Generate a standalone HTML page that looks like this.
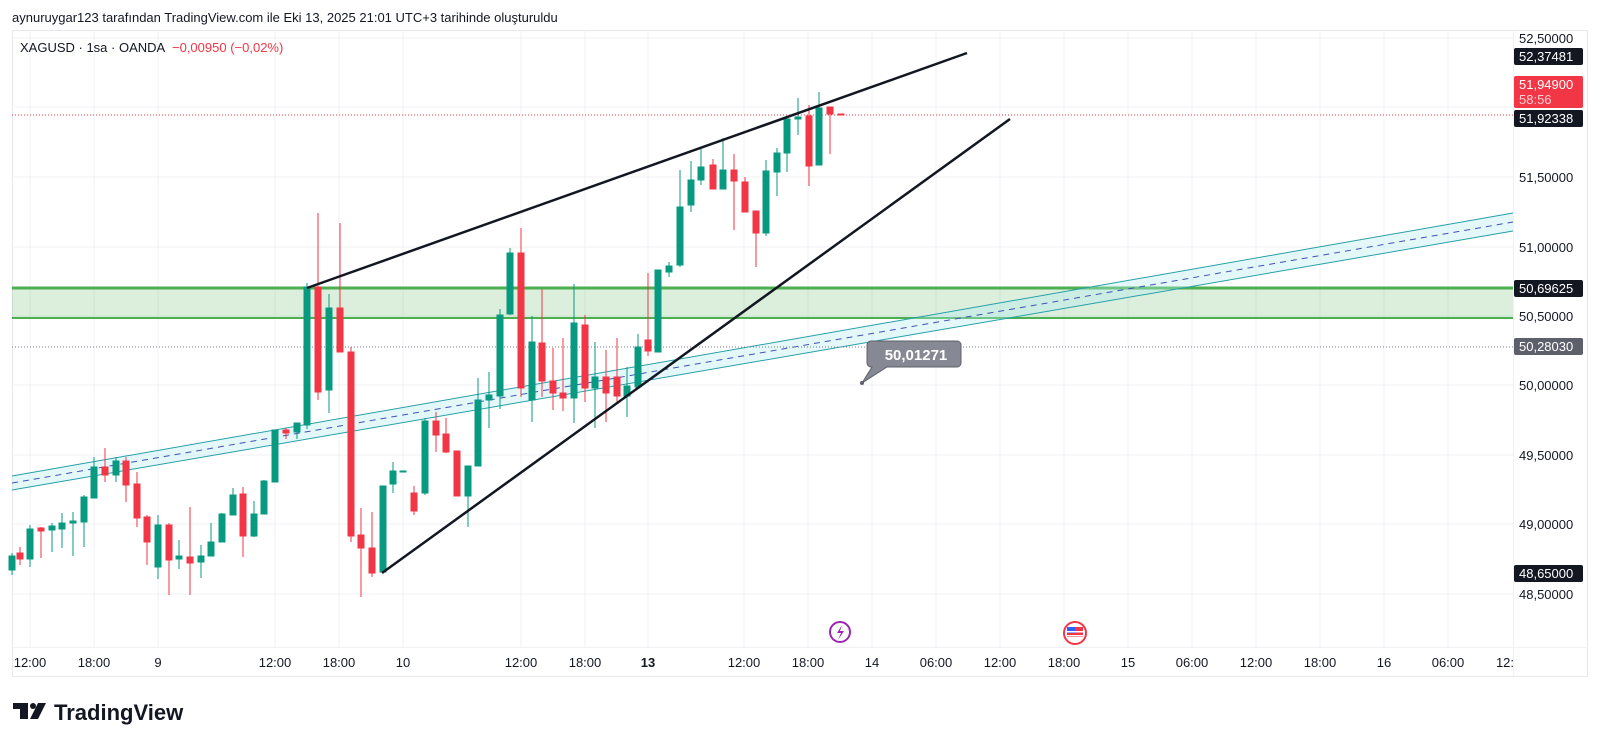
<!DOCTYPE html>
<html><head><meta charset="utf-8"><style>
html,body{margin:0;padding:0;background:#fff;width:1600px;height:744px;overflow:hidden}
svg{display:block;font-family:"Liberation Sans",sans-serif}
.g{fill:#089981;stroke:#089981}.r{fill:#f23645;stroke:#f23645}
.gw{stroke:#089981;stroke-width:1}.rw{stroke:#f23645;stroke-width:1}
.t{font-size:13px;fill:#131722}
</style></head><body>
<svg width="1600" height="744" viewBox="0 0 1600 744" xmlns="http://www.w3.org/2000/svg">
<text x="12" y="22" font-size="13" fill="#131722">aynuruygar123 tarafından TradingView.com ile Eki 13, 2025 21:01 UTC+3 tarihinde oluşturuldu</text>
<rect x="12.5" y="30.5" width="1575" height="646" fill="#fff" stroke="#e6e8ee"/>
<line x1="12" y1="647.5" x2="1588" y2="647.5" stroke="#f0f1f4"/>
<line x1="1513.5" y1="30" x2="1513.5" y2="677" stroke="#f0f1f4"/>
<g stroke="#f0f1f4" stroke-width="1">
<line x1="12" y1="38" x2="1513" y2="38"/><line x1="12" y1="107" x2="1513" y2="107"/><line x1="12" y1="177" x2="1513" y2="177"/><line x1="12" y1="247" x2="1513" y2="247"/><line x1="12" y1="316" x2="1513" y2="316"/><line x1="12" y1="385" x2="1513" y2="385"/><line x1="12" y1="455" x2="1513" y2="455"/><line x1="12" y1="524" x2="1513" y2="524"/><line x1="12" y1="594" x2="1513" y2="594"/>
<line x1="30" y1="30" x2="30" y2="647"/><line x1="94" y1="30" x2="94" y2="647"/><line x1="158" y1="30" x2="158" y2="647"/><line x1="275" y1="30" x2="275" y2="647"/><line x1="339" y1="30" x2="339" y2="647"/><line x1="403" y1="30" x2="403" y2="647"/><line x1="521" y1="30" x2="521" y2="647"/><line x1="585" y1="30" x2="585" y2="647"/><line x1="648" y1="30" x2="648" y2="647"/><line x1="744" y1="30" x2="744" y2="647"/><line x1="808" y1="30" x2="808" y2="647"/><line x1="872" y1="30" x2="872" y2="647"/><line x1="936" y1="30" x2="936" y2="647"/><line x1="1000" y1="30" x2="1000" y2="647"/><line x1="1064" y1="30" x2="1064" y2="647"/><line x1="1128" y1="30" x2="1128" y2="647"/><line x1="1192" y1="30" x2="1192" y2="647"/><line x1="1256" y1="30" x2="1256" y2="647"/><line x1="1320" y1="30" x2="1320" y2="647"/><line x1="1384" y1="30" x2="1384" y2="647"/><line x1="1448" y1="30" x2="1448" y2="647"/>
</g>
<text x="20" y="52" font-size="13" fill="#131722">XAGUSD · 1sa · OANDA</text>
<text x="172" y="52" font-size="13" fill="#f23645">−0,00950 (−0,02%)</text>
<rect x="12" y="288" width="1501" height="30" fill="#4caf50" fill-opacity="0.2"/>
<line x1="12" y1="288" x2="1513" y2="288" stroke="#4caf50" stroke-width="3"/>
<line x1="12" y1="318" x2="1513" y2="318" stroke="#4caf50" stroke-width="2"/>
<polygon points="12,476 1513,213 1513,231 12,490" fill="#b2ebf2" fill-opacity="0.35"/>
<line x1="12" y1="476" x2="1513" y2="213" stroke="#26a0a8" stroke-width="1"/>
<line x1="12" y1="490" x2="1513" y2="231" stroke="#26a0a8" stroke-width="1"/>
<line x1="12" y1="483" x2="1513" y2="222" stroke="#3f51b5" stroke-width="1" stroke-dasharray="6,5"/>
<line x1="12" y1="347" x2="1513" y2="347" stroke="#787b86" stroke-width="1" stroke-dasharray="1,2"/>
<line x1="12" y1="115" x2="1513" y2="115" stroke="#f23645" stroke-width="1" stroke-dasharray="1,2"/>
<g>
<line class="gw" x1="12" y1="553" x2="12" y2="575"/><rect class="g" x="9" y="556" width="6" height="14"/>
<line class="rw" x1="20" y1="547" x2="20" y2="565"/><rect class="r" x="17" y="553" width="6" height="6"/>
<line class="gw" x1="30" y1="525" x2="30" y2="567"/><rect class="g" x="27" y="529" width="6" height="30"/>
<line class="rw" x1="41" y1="527" x2="41" y2="558"/><rect class="r" x="38" y="528" width="6" height="3"/>
<line class="gw" x1="52" y1="523" x2="52" y2="552"/><rect class="g" x="49" y="526" width="6" height="4"/>
<line class="gw" x1="62" y1="513" x2="62" y2="548"/><rect class="g" x="59" y="523" width="6" height="6"/>
<line class="gw" x1="73" y1="512" x2="73" y2="556"/><rect class="g" x="70" y="521" width="6" height="2"/>
<line class="gw" x1="84" y1="495" x2="84" y2="547"/><rect class="g" x="81" y="497" width="6" height="25"/>
<line class="gw" x1="94" y1="457" x2="94" y2="498"/><rect class="g" x="91" y="467" width="6" height="31"/>
<line class="rw" x1="105" y1="448" x2="105" y2="482"/><rect class="r" x="102" y="467" width="6" height="8"/>
<line class="gw" x1="116" y1="457" x2="116" y2="482"/><rect class="g" x="113" y="461" width="6" height="14"/>
<line class="rw" x1="126" y1="457" x2="126" y2="502"/><rect class="r" x="123" y="461" width="6" height="24"/>
<line class="rw" x1="137" y1="472" x2="137" y2="527"/><rect class="r" x="134" y="484" width="6" height="34"/>
<line class="rw" x1="147" y1="515" x2="147" y2="565"/><rect class="r" x="144" y="517" width="6" height="25"/>
<line class="gw" x1="158" y1="515" x2="158" y2="579"/><rect class="g" x="155" y="525" width="6" height="42"/>
<line class="rw" x1="169" y1="523" x2="169" y2="595"/><rect class="r" x="166" y="525" width="6" height="35"/>
<line class="gw" x1="179" y1="540" x2="179" y2="569"/><rect class="g" x="176" y="556" width="6" height="3"/>
<line class="rw" x1="190" y1="507" x2="190" y2="595"/><rect class="r" x="187" y="557" width="6" height="6"/>
<line class="gw" x1="201" y1="545" x2="201" y2="578"/><rect class="g" x="198" y="556" width="6" height="6"/>
<line class="gw" x1="211" y1="523" x2="211" y2="556"/><rect class="g" x="208" y="542" width="6" height="14"/>
<line class="gw" x1="222" y1="513" x2="222" y2="542"/><rect class="g" x="219" y="514" width="6" height="28"/>
<line class="gw" x1="233" y1="488" x2="233" y2="515"/><rect class="g" x="230" y="495" width="6" height="20"/>
<line class="rw" x1="243" y1="487" x2="243" y2="557"/><rect class="r" x="240" y="494" width="6" height="42"/>
<line class="gw" x1="254" y1="501" x2="254" y2="537"/><rect class="g" x="251" y="514" width="6" height="22"/>
<line class="gw" x1="264" y1="480" x2="264" y2="514"/><rect class="g" x="261" y="481" width="6" height="33"/>
<rect class="g" x="272" y="430" width="6" height="52"/>
<line class="rw" x1="286" y1="428" x2="286" y2="439"/><rect class="r" x="283" y="430" width="6" height="3"/>
<line class="gw" x1="297" y1="423" x2="297" y2="439"/><rect class="g" x="294" y="423" width="6" height="9"/>
<line class="gw" x1="307" y1="283" x2="307" y2="429"/><rect class="g" x="304" y="287" width="6" height="138"/>
<line class="rw" x1="318" y1="213" x2="318" y2="400"/><rect class="r" x="315" y="287" width="6" height="105"/>
<line class="gw" x1="329" y1="294" x2="329" y2="413"/><rect class="g" x="326" y="308" width="6" height="82"/>
<line class="rw" x1="340" y1="223" x2="340" y2="352"/><rect class="r" x="337" y="308" width="6" height="44"/>
<line class="rw" x1="351" y1="347" x2="351" y2="542"/><rect class="r" x="348" y="352" width="6" height="184"/>
<line class="rw" x1="361" y1="508" x2="361" y2="597"/><rect class="r" x="358" y="535" width="6" height="13"/>
<line class="rw" x1="372" y1="512" x2="372" y2="577"/><rect class="r" x="369" y="548" width="6" height="25"/>
<rect class="g" x="380" y="486" width="6" height="86"/>
<line class="gw" x1="393" y1="462" x2="393" y2="493"/><rect class="g" x="390" y="471" width="6" height="13"/>
<rect class="g" x="400" y="471" width="6" height="1"/>
<line class="rw" x1="414" y1="486" x2="414" y2="515"/><rect class="r" x="411" y="493" width="6" height="18"/>
<line class="gw" x1="425" y1="418" x2="425" y2="495"/><rect class="g" x="422" y="421" width="6" height="72"/>
<line class="rw" x1="436" y1="412" x2="436" y2="452"/><rect class="r" x="433" y="421" width="6" height="14"/>
<line class="rw" x1="446" y1="418" x2="446" y2="453"/><rect class="r" x="443" y="434" width="6" height="18"/>
<rect class="r" x="454" y="451" width="6" height="45"/>
<line class="gw" x1="468" y1="466" x2="468" y2="527"/><rect class="g" x="465" y="466" width="6" height="30"/>
<line class="gw" x1="478" y1="378" x2="478" y2="466"/><rect class="g" x="475" y="400" width="6" height="66"/>
<line class="gw" x1="489" y1="372" x2="489" y2="428"/><rect class="g" x="486" y="395" width="6" height="5"/>
<line class="gw" x1="500" y1="309" x2="500" y2="409"/><rect class="g" x="497" y="315" width="6" height="81"/>
<line class="gw" x1="510" y1="248" x2="510" y2="315"/><rect class="g" x="507" y="253" width="6" height="61"/>
<line class="rw" x1="521" y1="228" x2="521" y2="397"/><rect class="r" x="518" y="253" width="6" height="135"/>
<line class="gw" x1="532" y1="316" x2="532" y2="422"/><rect class="g" x="529" y="342" width="6" height="58"/>
<line class="rw" x1="542" y1="289" x2="542" y2="397"/><rect class="r" x="539" y="343" width="6" height="38"/>
<line class="rw" x1="553" y1="348" x2="553" y2="410"/><rect class="r" x="550" y="381" width="6" height="12"/>
<line class="rw" x1="563" y1="338" x2="563" y2="411"/><rect class="r" x="560" y="393" width="6" height="5"/>
<line class="gw" x1="574" y1="284" x2="574" y2="423"/><rect class="g" x="571" y="323" width="6" height="75"/>
<line class="rw" x1="585" y1="315" x2="585" y2="402"/><rect class="r" x="582" y="325" width="6" height="63"/>
<line class="gw" x1="595" y1="342" x2="595" y2="428"/><rect class="g" x="592" y="377" width="6" height="11"/>
<line class="rw" x1="606" y1="350" x2="606" y2="422"/><rect class="r" x="603" y="377" width="6" height="16"/>
<line class="rw" x1="617" y1="338" x2="617" y2="402"/><rect class="r" x="614" y="377" width="6" height="19"/>
<line class="gw" x1="627" y1="367" x2="627" y2="417"/><rect class="g" x="624" y="386" width="6" height="10"/>
<line class="gw" x1="638" y1="334" x2="638" y2="387"/><rect class="g" x="635" y="347" width="6" height="40"/>
<line class="rw" x1="648" y1="273" x2="648" y2="356"/><rect class="r" x="645" y="340" width="6" height="11"/>
<rect class="g" x="655" y="270" width="6" height="82"/>
<line class="gw" x1="669" y1="262" x2="669" y2="277"/><rect class="g" x="666" y="266" width="6" height="6"/>
<line class="gw" x1="680" y1="170" x2="680" y2="267"/><rect class="g" x="677" y="207" width="6" height="58"/>
<line class="gw" x1="691" y1="161" x2="691" y2="212"/><rect class="g" x="688" y="180" width="6" height="25"/>
<line class="gw" x1="701" y1="148" x2="701" y2="185"/><rect class="g" x="698" y="167" width="6" height="13"/>
<line class="rw" x1="713" y1="159" x2="713" y2="189"/><rect class="r" x="710" y="165" width="6" height="24"/>
<line class="gw" x1="723" y1="138" x2="723" y2="189"/><rect class="g" x="720" y="170" width="6" height="19"/>
<line class="rw" x1="734" y1="154" x2="734" y2="230"/><rect class="r" x="731" y="170" width="6" height="11"/>
<line class="rw" x1="745" y1="177" x2="745" y2="212"/><rect class="r" x="742" y="182" width="6" height="30"/>
<line class="rw" x1="756" y1="211" x2="756" y2="267"/><rect class="r" x="753" y="211" width="6" height="22"/>
<line class="gw" x1="766" y1="160" x2="766" y2="236"/><rect class="g" x="763" y="171" width="6" height="62"/>
<line class="gw" x1="777" y1="148" x2="777" y2="196"/><rect class="g" x="774" y="153" width="6" height="19"/>
<line class="gw" x1="787" y1="119" x2="787" y2="172"/><rect class="g" x="784" y="119" width="6" height="34"/>
<line class="gw" x1="798" y1="98" x2="798" y2="135"/><rect class="g" x="795" y="117" width="6" height="2"/>
<line class="rw" x1="809" y1="105" x2="809" y2="186"/><rect class="r" x="806" y="116" width="6" height="50"/>
<line class="gw" x1="819" y1="92" x2="819" y2="165"/><rect class="g" x="816" y="108" width="6" height="57"/>
<line class="rw" x1="830" y1="107" x2="830" y2="154"/><rect class="r" x="827" y="107" width="6" height="7"/>
<rect class="r" x="838" y="114" width="6" height="1"/>
</g>
<line x1="307" y1="288" x2="967" y2="53" stroke="#131722" stroke-width="2.5"/>
<line x1="382" y1="573" x2="1010" y2="119" stroke="#131722" stroke-width="2.5"/>
<path d="M875,341 h82 a4,4 0 0 1 4,4 v18 a4,4 0 0 1 -4,4 h-70 l-25,16 l10,-16 h-1 a4,4 0 0 1 -4,-4 v-18 a4,4 0 0 1 4,-4 z" fill="#868993" stroke="#5d606b"/>
<circle cx="862" cy="383" r="2" fill="#5d606b"/>
<text x="916" y="360" font-size="15" font-weight="bold" fill="#fff" text-anchor="middle">50,01271</text>
<circle cx="840" cy="632" r="10" fill="#fff" stroke="#9c27b0" stroke-width="2"/>
<path d="M842,625 l-5,8 h4 l-3,7 l6,-9 h-4 z" fill="#9c27b0"/>
<circle cx="1075" cy="633" r="11" fill="#fff" stroke="#f23645" stroke-width="2"/>
<rect x="1067" y="627" width="16" height="10" fill="#f23645"/><rect x="1067" y="627" width="8" height="6" fill="#2962ff"/>
<rect x="1067" y="631" width="16" height="1.5" fill="#fff"/><rect x="1067" y="635" width="16" height="1.5" fill="#fff"/>
<g class="t" font-size="13">
<text x="1519" y="43">52,50000</text>
<text x="1519" y="182">51,50000</text>
<text x="1519" y="252">51,00000</text>
<text x="1519" y="321">50,50000</text>
<text x="1519" y="390">50,00000</text>
<text x="1519" y="460">49,50000</text>
<text x="1519" y="529">49,00000</text>
<text x="1519" y="599">48,50000</text>
</g>
<rect x="1514" y="48" width="69" height="17" rx="2" fill="#131722"/><text x="1519" y="61" font-size="13" fill="#fff">52,37481</text>
<rect x="1514" y="76" width="69" height="32" rx="2" fill="#f23645"/><text x="1519" y="89" font-size="13" fill="#fff">51,94900</text><text x="1519" y="104" font-size="13" fill="#ffd0d4">58:56</text>
<rect x="1514" y="110" width="69" height="17" rx="2" fill="#131722"/><text x="1519" y="123" font-size="13" fill="#fff">51,92338</text>
<rect x="1514" y="280" width="69" height="17" rx="2" fill="#131722"/><text x="1519" y="293" font-size="13" fill="#fff">50,69625</text>
<rect x="1514" y="338" width="69" height="17" rx="2" fill="#5d606b"/><text x="1519" y="351" font-size="13" fill="#fff">50,28030</text>
<rect x="1514" y="565" width="69" height="17" rx="2" fill="#131722"/><text x="1519" y="578" font-size="13" fill="#fff">48,65000</text>
<g class="t" text-anchor="middle">
<text x="30" y="667">12:00</text><text x="94" y="667">18:00</text><text x="158" y="667">9</text><text x="275" y="667">12:00</text><text x="339" y="667">18:00</text><text x="403" y="667">10</text><text x="521" y="667">12:00</text><text x="585" y="667">18:00</text><text x="648" y="667" font-weight="bold">13</text><text x="744" y="667">12:00</text><text x="808" y="667">18:00</text><text x="872" y="667">14</text><text x="936" y="667">06:00</text><text x="1000" y="667">12:00</text><text x="1064" y="667">18:00</text><text x="1128" y="667">15</text><text x="1192" y="667">06:00</text><text x="1256" y="667">12:00</text><text x="1320" y="667">18:00</text><text x="1384" y="667">16</text><text x="1448" y="667">06:00</text><text x="1505" y="667">12:</text>
</g>
<rect x="13" y="703" width="15" height="6" fill="#131722"/><rect x="20" y="703" width="8" height="16" fill="#131722"/>
<circle cx="33" cy="706" r="3" fill="#131722"/><polygon points="38,703 46,703 38,719 30,719" fill="#131722"/>
<text x="54" y="720" font-size="22" font-weight="bold" fill="#131722">TradingView</text>
</svg>
</body></html>
